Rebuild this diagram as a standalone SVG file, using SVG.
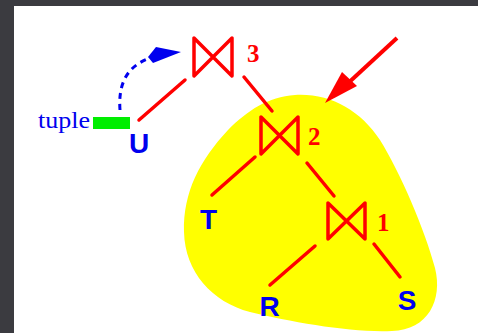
<svg xmlns="http://www.w3.org/2000/svg" width="478" height="333" viewBox="0 0 478 333">
<defs>
<style>
.edge{stroke:#ff0000;stroke-width:3.5;stroke-linecap:round;fill:none}
.bow{stroke:#ff0000;stroke-width:3.5;stroke-linejoin:round;fill:none}
.num{font-family:"Liberation Serif",serif;font-weight:bold;font-size:25px;fill:#ff0000}
.rel{font-family:"Liberation Sans",sans-serif;font-weight:bold;font-size:28px;fill:#0000ee;text-anchor:middle}
</style>
</defs>
<rect x="0" y="0" width="478" height="333" fill="#3b3b40"/>
<rect x="14" y="6" width="464" height="327" fill="#ffffff"/>
<path id="blob" d="M295,95 C330,93 360,110 380,140 C400,172 425,230 435,268 C443,300 428,330 392,331 C352,333 292,322 250,312 C212,302 185,272 184,232 C183,192 200,160 228,130 C248,110 268,97 295,95 Z" fill="#ffff00"/>
<g id="connectors">
<line class="edge" x1="185" y1="80" x2="139" y2="120"/>
<line class="edge" x1="244" y1="77" x2="272" y2="111"/>
<line class="edge" x1="255" y1="157" x2="212" y2="195"/>
<line class="edge" x1="307" y1="163" x2="334" y2="196"/>
<line class="edge" x1="315" y1="246" x2="270" y2="285"/>
<line class="edge" x1="374" y1="244" x2="400" y2="277"/>
<path d="M120,110 C118,82 128,66 150,58" fill="none" stroke="#0000ee" stroke-width="3" stroke-dasharray="6,5"/>
<path d="M181,52 L156,47 L148,57 L153,63 Z" fill="#0000ee"/>
<line x1="397" y1="38" x2="345" y2="86" stroke="#ff0000" stroke-width="4"/>
<path d="M325,103 L342,72 L357,86 Z" fill="#ff0000"/>
</g>
<g id="join3">
<path class="bow" d="M194,38 L194,76 L232,38 L232,76 Z"/>
<text class="num" x="247" y="62">3</text>
</g>
<g id="join2">
<path class="bow" d="M261,117 L261,154 L298,117 L298,154 Z"/>
<text class="num" x="308" y="145">2</text>
</g>
<g id="join1">
<path class="bow" d="M328,203 L328,239 L365,203 L365,239 Z"/>
<text class="num" x="377" y="231">1</text>
</g>
<g id="T"><text class="rel" x="208.5" y="229">T</text></g>
<g id="R"><text class="rel" x="269.5" y="316">R</text></g>
<g id="S"><text class="rel" x="407" y="310">S</text></g>
<g id="U"><text class="rel" x="139" y="153">U</text></g>
<g id="tuple">
<rect x="93" y="117" width="37" height="12" fill="#00ee00"/>
<text x="38" y="128" font-family="Liberation Serif, serif" font-size="24" fill="#0000ee" textLength="52" lengthAdjust="spacingAndGlyphs">tuple</text>
</g>
</svg>
